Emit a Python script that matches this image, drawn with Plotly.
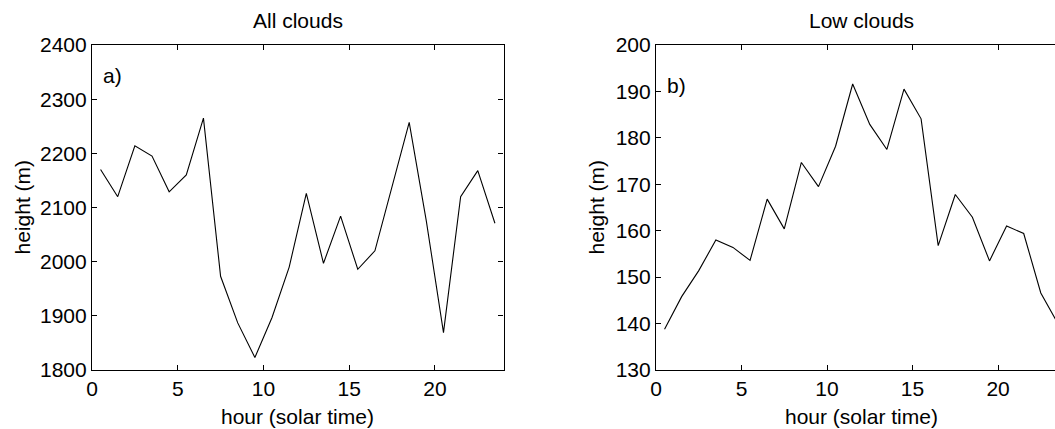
import plotly.graph_objects as go

# Hourly bins (solar time), centred on the half hour
hours = [h + 0.5 for h in range(24)]

# Mean cloud-base height for all clouds (m)
all_clouds = [2170, 2120, 2214, 2195, 2129, 2160, 2265, 1973, 1887, 1823,
              1897, 1990, 2126, 1997, 2084, 1986, 2020, 2140, 2257, 2075,
              1869, 2120, 2168, 2071]

# Mean cloud-base height for low clouds (m)
low_clouds = [138.8, 145.8, 151.4, 158.0, 156.4, 153.6, 166.8, 160.4, 174.7, 169.5,
              178.2, 191.6, 182.9, 177.5, 190.5, 184.1, 156.8, 167.8, 162.9, 153.5,
              161.0, 159.4, 146.6, 140.0]

x_ticks = [0, 5, 10, 15, 20]
y_ticks_all = [1800, 1900, 2000, 2100, 2200, 2300, 2400]
y_ticks_low = [130, 140, 150, 160, 170, 180, 190, 200]

FONT = "Liberation Sans, Arial, Helvetica, sans-serif"
FS = 21
W, H = 1055, 429
T, B = 45, 59

fig = go.Figure()
fig.add_trace(go.Scatter(x=hours, y=all_clouds, mode="lines",
                         line=dict(color="black", width=1.1),
                         xaxis="x", yaxis="y", showlegend=False))
fig.add_trace(go.Scatter(x=hours, y=low_clouds, mode="lines",
                         line=dict(color="black", width=1.1),
                         xaxis="x2", yaxis="y2", showlegend=False))

common = dict(showgrid=False, zeroline=False, showline=True, linecolor="black",
              linewidth=1.2, ticks="inside", ticklen=5, tickcolor="black",
              tickfont=dict(family=FONT, size=FS, color="black"), automargin=False)

fig.update_layout(
    width=W, height=H,
    margin=dict(l=0, r=0, t=T, b=B, pad=0),
    paper_bgcolor="white", plot_bgcolor="white",
    font=dict(family=FONT, size=FS, color="black"),
    xaxis=dict(domain=[92 / W, 503.5 / W], range=[0, 24], tickvals=x_ticks,
               mirror="ticks", anchor="y", **common),
    yaxis=dict(domain=[0, 1], range=[1800, 2400], tickvals=y_ticks_all,
               mirror="ticks", anchor="x", **common),
    xaxis2=dict(domain=[656 / W, 1.0], range=[0, 23.33], tickvals=x_ticks,
                mirror="ticks", anchor="y2", **common),
    yaxis2=dict(domain=[0, 1], range=[130, 200], tickvals=y_ticks_low,
                mirror=False, anchor="x2", **common),
)

ph = H - T - B
left_c = (92 + 503.5) / 2 / W
right_c = (656 + 656 + 24 * 17.1) / 2 / W

def ann(text, x, y, xanchor="center", yanchor="middle", angle=0):
    fig.add_annotation(text=text, x=x, y=y, xref="paper", yref="paper",
                       xanchor=xanchor, yanchor=yanchor, textangle=angle,
                       showarrow=False, font=dict(family=FONT, size=FS, color="black"))

# Panel titles
ann("All clouds", left_c, (H - B - 21) / ph)
ann("Low clouds", right_c, (H - B - 21) / ph)
# Axis titles
ann("hour (solar time)", left_c, -(416 - (H - B)) / ph)
ann("hour (solar time)", right_c, -(416 - (H - B)) / ph)
ann("height (m)", 22 / W, 0.5, angle=-90)
ann("height (m)", 596 / W, 0.5, angle=-90)
# Panel letters
ann("a)", 101 / W, (H - B - 75) / ph, xanchor="left")
ann("b)", 665 / W, (H - B - 85) / ph, xanchor="left")

fig.write_html("out.html")
